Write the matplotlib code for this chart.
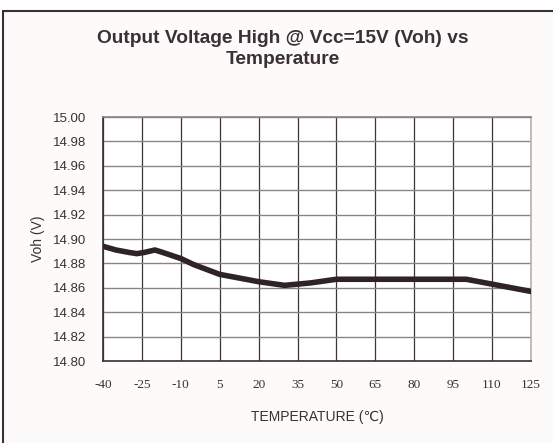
import matplotlib
matplotlib.use("Agg")
import matplotlib.pyplot as plt
from matplotlib.patches import Rectangle

# data
temps = [-40, -35, -30, -27, -24, -20, -17, -10, -5, 0, 5, 10, 20, 30, 40, 50, 60, 70, 80,
         90, 100, 110, 120, 125]
voh = [14.894, 14.891, 14.889, 14.888, 14.889, 14.891, 14.889, 14.884, 14.879, 14.875,
       14.871, 14.869, 14.865, 14.862, 14.864, 14.867, 14.867, 14.867, 14.867, 14.867,
       14.867, 14.863, 14.859, 14.857]

x_ticks = [-40, -25, -10, 5, 20, 35, 50, 65, 80, 95, 110, 125]
y_ticks = [14.80, 14.82, 14.84, 14.86, 14.88, 14.90, 14.92, 14.94, 14.96, 14.98, 15.00]

W, H = 553, 443
fig = plt.figure(figsize=(W / 100, H / 100), dpi=100)
fig.patch.set_facecolor("white")

# outer chart frame (right and bottom edges run off the picture)
fig.patches.append(Rectangle((3 / W, -0.1), 1.2, 1.1 - 11 / H, transform=fig.transFigure,
                             facecolor="#fcfbf9", edgecolor="#3a3038", linewidth=1.5, zorder=-5))

ax = fig.add_axes([103 / W, 1 - 361 / H, 428 / W, 244 / H])
ax.set_facecolor("white")
ax.plot(temps, voh, color="#2f2229", linewidth=4.0, solid_capstyle="round",
        solid_joinstyle="round", zorder=3)

ax.set_xlim(-40, 125)
ax.set_ylim(14.80, 15.00)
ax.set_xticks(x_ticks)
ax.set_yticks(y_ticks)
ax.set_xticklabels([str(t) for t in x_ticks], family="Liberation Serif", fontsize=9.5,
                   color="#3a3035")
ax.set_yticklabels(["%.2f" % v for v in y_ticks], family="Liberation Sans", fontsize=9.5,
                   color="#3a3035")
ax.tick_params(axis="both", length=0)
ax.tick_params(axis="x", pad=13)
ax.tick_params(axis="y", pad=12)

ax.grid(axis="x", color="#3e3539", linewidth=0.9)
ax.grid(axis="y", color="#8a8285", linewidth=1.0)
ax.set_axisbelow(True)

ax.spines["left"].set_color("#3a3038")
ax.spines["bottom"].set_color("#3a3038")
ax.spines["top"].set_color("#8a8285")
ax.spines["right"].set_color("#b8b2b0")
for s in ax.spines.values():
    s.set_linewidth(1.2)

ax.set_xlabel("TEMPERATURE (\u2103)", family=["Liberation Sans", "DejaVu Sans"],
              fontsize=10, color="#3a3035", labelpad=14)
ax.set_ylabel("Voh (V)", family="Liberation Sans", fontsize=10, color="#3a3035",
              labelpad=6)

fig.text(283 / W, 1 - 49 / H, "Output Voltage High @ Vcc=15V (Voh) vs\nTemperature",
         ha="center", va="center", family="Liberation Sans", fontweight="bold",
         fontsize=13.8, color="#3a3035", linespacing=1.3)

fig.savefig("out.png", dpi=100, facecolor=fig.get_facecolor())
